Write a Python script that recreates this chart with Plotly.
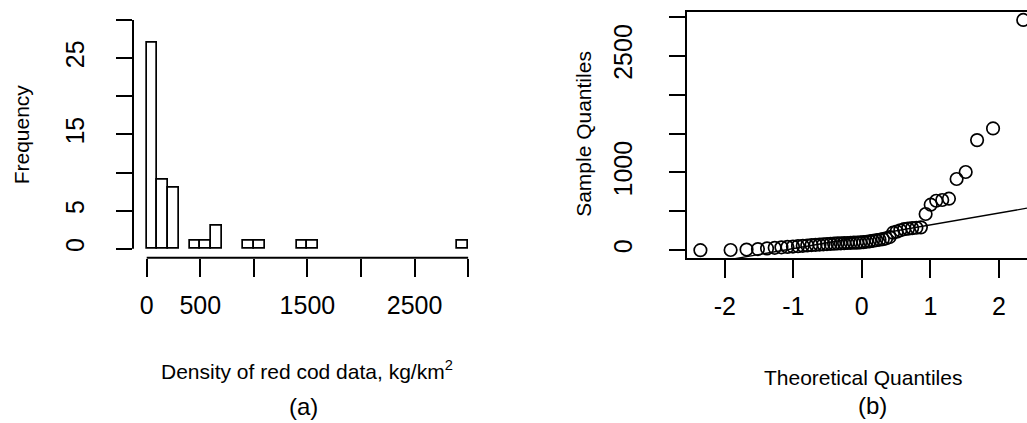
import numpy as np
import plotly.graph_objects as go
from statistics import NormalDist

# ---- data (red cod density, kg/km^2), sorted, n = 54 ----
density = [0, 2, 8, 14, 22, 30, 36, 41, 46, 51, 56, 60, 65, 69, 72, 75, 78, 81,
           84, 86, 88, 90, 92, 94, 96, 97, 99,
           103, 108, 114, 120, 127, 134, 142, 152, 168,
           225, 238, 255, 270, 277, 283, 288, 293,
           465, 585, 635, 645, 662, 915, 1005, 1415, 1565, 2960]

hist_xticks = [0, 500, 1000, 1500, 2000, 2500, 3000]
hist_xlabels = ["0", "500", " ", "1500", " ", "2500", " "]
hist_yticks = [0, 5, 10, 15, 20, 25, 30]
hist_ylabels = ["0", "5", " ", "15", " ", "25", " "]
qq_xticks = [-2, -1, 0, 1, 2]
qq_xlabels = ["-2", "-1", "0", "1", "2"]
qq_yticks = [0, 500, 1000, 1500, 2000, 2500, 3000]
qq_ylabels = ["0", " ", "1000", " ", " ", "2500", " "]
bin_width = 100

# ---- derived quantities ----
vals = np.sort(np.array(density, dtype=float))
n = len(vals)
nd = NormalDist()
theo = np.array([nd.inv_cdf((i - 0.5) / n) for i in range(1, n + 1)])
q1, q3 = np.quantile(vals, [0.25, 0.75])
z1, z3 = nd.inv_cdf(0.25), nd.inv_cdf(0.75)
slope = (q3 - q1) / (z3 - z1)
intercept = q1 - slope * z1

W, H = 1027, 423
def px(x):
    return x / W
def py(y):
    return 1 - y / H

qq_xrange = [-2.555, 2.41]
qq_yrange = [-102, 3063]
line_x = np.array(qq_xrange)
line_y = intercept + slope * line_x

font = "Liberation Sans, Arial, sans-serif"
tick_font = dict(family=font, size=25, color="black")

fig = go.Figure()
fig.add_trace(go.Histogram(
    x=vals, xbins=dict(start=0, end=max(hist_xticks), size=bin_width),
    marker=dict(color="white", line=dict(color="black", width=1.7)),
    xaxis="x", yaxis="y", showlegend=False))
fig.add_trace(go.Scatter(
    x=line_x, y=line_y, mode="lines", line=dict(color="black", width=1.3),
    xaxis="x2", yaxis="y2", showlegend=False))
fig.add_trace(go.Scatter(
    x=theo, y=vals, mode="markers",
    marker=dict(symbol="circle-open", size=12.5, color="black",
                line=dict(width=1.7, color="black")),
    xaxis="x2", yaxis="y2", showlegend=False))

common = dict(showgrid=False, zeroline=False, ticks="outside", tickwidth=2,
              tickcolor="black", tickfont=tick_font)

fig.update_layout(
    width=W, height=H, margin=dict(l=0, r=0, t=0, b=0),
    paper_bgcolor="white", plot_bgcolor="white", bargap=0,
    xaxis=dict(domain=[px(133), px(481)], range=[-128, 3120], anchor="y",
               tickvals=hist_xticks, ticktext=hist_xlabels, ticklen=18,
               showline=False, ticklabelstandoff=7, **common),
    yaxis=dict(domain=[py(257), py(8.8)], range=[-1.17, 31.2], anchor="x",
               tickvals=hist_yticks, ticktext=hist_ylabels, ticklen=16,
               tickangle=-90, showline=False, ticklabelstandoff=22, **common),
    xaxis2=dict(domain=[px(686.7), 1.0], range=qq_xrange, anchor="y2",
                tickvals=qq_xticks, ticktext=qq_xlabels, ticklen=18,
                showline=True, mirror=True, linewidth=2, linecolor="black",
                ticklabelstandoff=7, **common),
    yaxis2=dict(domain=[py(257.3), py(10)], range=qq_yrange, anchor="x2",
                tickvals=qq_yticks, ticktext=qq_ylabels, ticklen=16,
                tickangle=-90, showline=True, linewidth=2, linecolor="black",
                ticklabelstandoff=27, **common),
    shapes=[
        dict(type="line", xref="x domain", yref="y", x0=0, x1=0,
             y0=min(hist_yticks), y1=max(hist_yticks),
             line=dict(color="black", width=2)),
        dict(type="line", xref="x", yref="y domain", x0=min(hist_xticks),
             x1=max(hist_xticks), y0=0, y1=0,
             line=dict(color="black", width=2)),
    ],
)

title_font = dict(family=font, size=21, color="black")
ann = [
    dict(text="Frequency", x=px(21), y=py(133), textangle=-90),
    dict(text="Density of red cod data, kg/km<sup>2</sup>", x=px(307), y=py(370)),
    dict(text="(a)", x=px(303), y=py(406), font=dict(family=font, size=24, color="black")),
    dict(text="Sample Quantiles", x=px(584), y=py(132.5), textangle=-90),
    dict(text="Theoretical Quantiles", x=px(862.5), y=py(377)),
    dict(text="(b)", x=px(872), y=py(405), font=dict(family=font, size=24, color="black")),
]
for a in ann:
    a.setdefault("font", title_font)
    fig.add_annotation(xref="paper", yref="paper", showarrow=False,
                       xanchor="center", yanchor="middle", **a)

fig.write_html("out.html")
